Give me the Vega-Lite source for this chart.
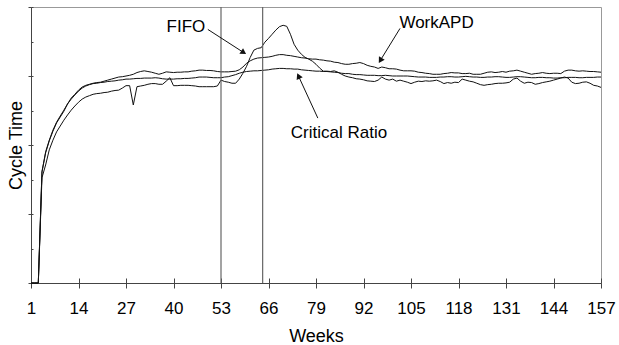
{
  "$schema": "https://vega.github.io/schema/vega-lite/v6.json",
  "width": 570,
  "height": 276,
  "autosize": {"type": "none"},
  "padding": {"left": 31, "top": 7, "right": 18, "bottom": 62},
  "background": "white",
  "config": {
    "font": "Liberation Sans",
    "view": {"stroke": "#999", "strokeWidth": 1},
    "axis": {"domainColor": "#444", "tickColor": "#444", "labelColor": "#000", "titleColor": "#000", "grid": false, "labelFont": "Liberation Sans", "titleFont": "Liberation Sans"}
  },
  "datasets": {
    "series": [
      {"w":1,"FIFO":0,"WorkAPD":0,"CR":0},
      {"w":2,"FIFO":0,"WorkAPD":0,"CR":0},
      {"w":3,"FIFO":0,"WorkAPD":0,"CR":0},
      {"w":4,"FIFO":30.5,"WorkAPD":32.2,"CR":32.2},
      {"w":5,"FIFO":34.2,"WorkAPD":38.0,"CR":37.7},
      {"w":6,"FIFO":38.6,"WorkAPD":41.4,"CR":41.2},
      {"w":7,"FIFO":41.4,"WorkAPD":44.3,"CR":44.0},
      {"w":8,"FIFO":43.8,"WorkAPD":46.6,"CR":46.4},
      {"w":9,"FIFO":45.5,"WorkAPD":48.4,"CR":48.1},
      {"w":10,"FIFO":47.2,"WorkAPD":50.1,"CR":49.8},
      {"w":11,"FIFO":48.7,"WorkAPD":51.9,"CR":51.9},
      {"w":12,"FIFO":50.1,"WorkAPD":53.6,"CR":53.3},
      {"w":13,"FIFO":51.3,"WorkAPD":54.7,"CR":54.5},
      {"w":14,"FIFO":52.4,"WorkAPD":55.9,"CR":55.6},
      {"w":15,"FIFO":53.3,"WorkAPD":56.8,"CR":56.5},
      {"w":16,"FIFO":53.9,"WorkAPD":57.3,"CR":57.1},
      {"w":17,"FIFO":54.3,"WorkAPD":57.6,"CR":57.5},
      {"w":18,"FIFO":54.7,"WorkAPD":57.9,"CR":57.8},
      {"w":19,"FIFO":54.9,"WorkAPD":58.1,"CR":57.9},
      {"w":20,"FIFO":55.0,"WorkAPD":58.2,"CR":58.1},
      {"w":21,"FIFO":55.2,"WorkAPD":58.5,"CR":58.2},
      {"w":22,"FIFO":55.3,"WorkAPD":58.8,"CR":58.4},
      {"w":23,"FIFO":55.6,"WorkAPD":59.1,"CR":58.5},
      {"w":24,"FIFO":55.8,"WorkAPD":59.4,"CR":58.6},
      {"w":25,"FIFO":55.9,"WorkAPD":59.7,"CR":58.8},
      {"w":26,"FIFO":56.5,"WorkAPD":59.8,"CR":58.9},
      {"w":27,"FIFO":57.2,"WorkAPD":60.0,"CR":59.1},
      {"w":28,"FIFO":57.2,"WorkAPD":60.2,"CR":59.1},
      {"w":29,"FIFO":51.6,"WorkAPD":60.5,"CR":59.2},
      {"w":30,"FIFO":56.9,"WorkAPD":61.0,"CR":59.3},
      {"w":31,"FIFO":57.1,"WorkAPD":61.3,"CR":59.3},
      {"w":32,"FIFO":57.3,"WorkAPD":61.5,"CR":59.4},
      {"w":33,"FIFO":57.6,"WorkAPD":61.3,"CR":59.4},
      {"w":34,"FIFO":57.8,"WorkAPD":61.1,"CR":59.4},
      {"w":35,"FIFO":57.8,"WorkAPD":60.8,"CR":59.5},
      {"w":36,"FIFO":57.6,"WorkAPD":60.5,"CR":59.4},
      {"w":37,"FIFO":57.6,"WorkAPD":60.8,"CR":59.2},
      {"w":38,"FIFO":58.5,"WorkAPD":61.2,"CR":59.1},
      {"w":39,"FIFO":59.5,"WorkAPD":61.1,"CR":59.1},
      {"w":40,"FIFO":57.2,"WorkAPD":61.0,"CR":59.1},
      {"w":41,"FIFO":57.2,"WorkAPD":61.1,"CR":59.2},
      {"w":42,"FIFO":57.3,"WorkAPD":61.1,"CR":59.2},
      {"w":43,"FIFO":57.3,"WorkAPD":61.2,"CR":59.3},
      {"w":44,"FIFO":57.3,"WorkAPD":61.2,"CR":59.3},
      {"w":45,"FIFO":57.2,"WorkAPD":61.4,"CR":59.4},
      {"w":46,"FIFO":57.1,"WorkAPD":61.5,"CR":59.5},
      {"w":47,"FIFO":56.9,"WorkAPD":61.7,"CR":59.7},
      {"w":48,"FIFO":56.9,"WorkAPD":61.7,"CR":59.7},
      {"w":49,"FIFO":56.9,"WorkAPD":61.6,"CR":59.7},
      {"w":50,"FIFO":56.9,"WorkAPD":61.6,"CR":59.6},
      {"w":51,"FIFO":56.9,"WorkAPD":61.5,"CR":59.5},
      {"w":52,"FIFO":57.1,"WorkAPD":61.3,"CR":59.5},
      {"w":53,"FIFO":58.8,"WorkAPD":61.2,"CR":59.5},
      {"w":54,"FIFO":58.4,"WorkAPD":61.2,"CR":59.7},
      {"w":55,"FIFO":58.2,"WorkAPD":61.2,"CR":59.8},
      {"w":56,"FIFO":57.9,"WorkAPD":61.3,"CR":60.1},
      {"w":57,"FIFO":57.9,"WorkAPD":61.4,"CR":60.4},
      {"w":58,"FIFO":59.1,"WorkAPD":61.8,"CR":60.8},
      {"w":59,"FIFO":60.8,"WorkAPD":62.6,"CR":61.1},
      {"w":60,"FIFO":62.8,"WorkAPD":63.7,"CR":61.3},
      {"w":61,"FIFO":65.4,"WorkAPD":64.4,"CR":61.4},
      {"w":62,"FIFO":67.5,"WorkAPD":64.9,"CR":61.5},
      {"w":63,"FIFO":68.0,"WorkAPD":65.2,"CR":61.5},
      {"w":64,"FIFO":68.2,"WorkAPD":65.3,"CR":61.6},
      {"w":65,"FIFO":69.8,"WorkAPD":65.4,"CR":61.7},
      {"w":66,"FIFO":70.9,"WorkAPD":65.5,"CR":61.8},
      {"w":67,"FIFO":72.1,"WorkAPD":65.7,"CR":62.0},
      {"w":68,"FIFO":73.3,"WorkAPD":66.0,"CR":62.1},
      {"w":69,"FIFO":74.3,"WorkAPD":66.2,"CR":62.2},
      {"w":70,"FIFO":74.7,"WorkAPD":66.2,"CR":62.2},
      {"w":71,"FIFO":74.4,"WorkAPD":66.0,"CR":62.1},
      {"w":72,"FIFO":72.1,"WorkAPD":65.9,"CR":62.1},
      {"w":73,"FIFO":69.2,"WorkAPD":65.7,"CR":62.0},
      {"w":74,"FIFO":67.5,"WorkAPD":65.5,"CR":62.0},
      {"w":75,"FIFO":66.3,"WorkAPD":65.3,"CR":61.8},
      {"w":76,"FIFO":65.4,"WorkAPD":65.2,"CR":61.7},
      {"w":77,"FIFO":64.9,"WorkAPD":65.0,"CR":61.6},
      {"w":78,"FIFO":64.3,"WorkAPD":64.9,"CR":61.5},
      {"w":79,"FIFO":63.4,"WorkAPD":64.9,"CR":61.4},
      {"w":80,"FIFO":62.3,"WorkAPD":64.7,"CR":61.4},
      {"w":81,"FIFO":61.4,"WorkAPD":64.6,"CR":61.3},
      {"w":82,"FIFO":61.4,"WorkAPD":64.4,"CR":61.3},
      {"w":83,"FIFO":61.3,"WorkAPD":64.3,"CR":61.2},
      {"w":84,"FIFO":61.5,"WorkAPD":64.0,"CR":61.1},
      {"w":85,"FIFO":61.1,"WorkAPD":63.9,"CR":61.0},
      {"w":86,"FIFO":60.5,"WorkAPD":63.6,"CR":60.8},
      {"w":87,"FIFO":60.0,"WorkAPD":63.4,"CR":60.7},
      {"w":88,"FIFO":59.7,"WorkAPD":63.4,"CR":60.7},
      {"w":89,"FIFO":59.5,"WorkAPD":63.6,"CR":60.5},
      {"w":90,"FIFO":59.2,"WorkAPD":63.7,"CR":60.4},
      {"w":91,"FIFO":59.1,"WorkAPD":63.9,"CR":60.4},
      {"w":92,"FIFO":58.9,"WorkAPD":63.6,"CR":60.3},
      {"w":93,"FIFO":58.6,"WorkAPD":63.1,"CR":60.2},
      {"w":94,"FIFO":58.5,"WorkAPD":62.8,"CR":60.2},
      {"w":95,"FIFO":58.4,"WorkAPD":62.6,"CR":60.2},
      {"w":96,"FIFO":58.8,"WorkAPD":62.2,"CR":60.1},
      {"w":97,"FIFO":59.7,"WorkAPD":62.6,"CR":60.1},
      {"w":98,"FIFO":59.1,"WorkAPD":62.4,"CR":60.2},
      {"w":99,"FIFO":58.8,"WorkAPD":62.1,"CR":60.1},
      {"w":100,"FIFO":59.1,"WorkAPD":62.1,"CR":60.0},
      {"w":101,"FIFO":58.5,"WorkAPD":62.0,"CR":60.0},
      {"w":102,"FIFO":58.8,"WorkAPD":61.7,"CR":60.0},
      {"w":103,"FIFO":58.5,"WorkAPD":61.5,"CR":60.0},
      {"w":104,"FIFO":58.2,"WorkAPD":61.5,"CR":60.0},
      {"w":105,"FIFO":57.8,"WorkAPD":61.5,"CR":59.9},
      {"w":106,"FIFO":58.2,"WorkAPD":61.4,"CR":59.8},
      {"w":107,"FIFO":58.5,"WorkAPD":61.1,"CR":59.7},
      {"w":108,"FIFO":58.4,"WorkAPD":61.0,"CR":59.7},
      {"w":109,"FIFO":58.6,"WorkAPD":60.8,"CR":59.7},
      {"w":110,"FIFO":58.5,"WorkAPD":60.7,"CR":59.6},
      {"w":111,"FIFO":58.6,"WorkAPD":60.5,"CR":59.6},
      {"w":112,"FIFO":58.8,"WorkAPD":60.5,"CR":59.6},
      {"w":113,"FIFO":58.4,"WorkAPD":60.5,"CR":59.7},
      {"w":114,"FIFO":57.8,"WorkAPD":60.7,"CR":59.7},
      {"w":115,"FIFO":58.1,"WorkAPD":60.8,"CR":59.8},
      {"w":116,"FIFO":57.9,"WorkAPD":61.0,"CR":59.8},
      {"w":117,"FIFO":58.2,"WorkAPD":60.9,"CR":59.7},
      {"w":118,"FIFO":58.1,"WorkAPD":60.9,"CR":59.7},
      {"w":119,"FIFO":59.1,"WorkAPD":60.7,"CR":59.8},
      {"w":120,"FIFO":58.8,"WorkAPD":60.7,"CR":59.9},
      {"w":121,"FIFO":58.5,"WorkAPD":60.8,"CR":59.8},
      {"w":122,"FIFO":58.3,"WorkAPD":60.5,"CR":59.7},
      {"w":123,"FIFO":57.9,"WorkAPD":60.5,"CR":59.7},
      {"w":124,"FIFO":57.5,"WorkAPD":60.5,"CR":59.6},
      {"w":125,"FIFO":57.3,"WorkAPD":60.8,"CR":59.6},
      {"w":126,"FIFO":57.5,"WorkAPD":61.1,"CR":59.7},
      {"w":127,"FIFO":57.6,"WorkAPD":61.2,"CR":59.7},
      {"w":128,"FIFO":57.8,"WorkAPD":61.0,"CR":59.8},
      {"w":129,"FIFO":57.9,"WorkAPD":61.1,"CR":59.8},
      {"w":130,"FIFO":57.9,"WorkAPD":61.3,"CR":59.7},
      {"w":131,"FIFO":58.0,"WorkAPD":61.1,"CR":59.6},
      {"w":132,"FIFO":58.2,"WorkAPD":61.4,"CR":59.6},
      {"w":133,"FIFO":59.1,"WorkAPD":61.5,"CR":59.7},
      {"w":134,"FIFO":59.4,"WorkAPD":61.7,"CR":59.8},
      {"w":135,"FIFO":58.5,"WorkAPD":61.4,"CR":59.8},
      {"w":136,"FIFO":57.9,"WorkAPD":61.1,"CR":59.7},
      {"w":137,"FIFO":58.2,"WorkAPD":60.8,"CR":59.6},
      {"w":138,"FIFO":58.1,"WorkAPD":60.5,"CR":59.5},
      {"w":139,"FIFO":57.6,"WorkAPD":60.7,"CR":59.5},
      {"w":140,"FIFO":57.8,"WorkAPD":60.8,"CR":59.6},
      {"w":141,"FIFO":58.1,"WorkAPD":61.0,"CR":59.6},
      {"w":142,"FIFO":58.3,"WorkAPD":60.8,"CR":59.5},
      {"w":143,"FIFO":58.5,"WorkAPD":60.7,"CR":59.5},
      {"w":144,"FIFO":58.8,"WorkAPD":60.8,"CR":59.4},
      {"w":145,"FIFO":59.1,"WorkAPD":60.8,"CR":59.4},
      {"w":146,"FIFO":59.4,"WorkAPD":60.7,"CR":59.5},
      {"w":147,"FIFO":59.7,"WorkAPD":61.4,"CR":59.5},
      {"w":148,"FIFO":59.4,"WorkAPD":61.7,"CR":59.6},
      {"w":149,"FIFO":58.2,"WorkAPD":61.7,"CR":59.6},
      {"w":150,"FIFO":57.8,"WorkAPD":61.5,"CR":59.6},
      {"w":151,"FIFO":57.9,"WorkAPD":61.4,"CR":59.5},
      {"w":152,"FIFO":58.2,"WorkAPD":61.5,"CR":59.5},
      {"w":153,"FIFO":58.3,"WorkAPD":61.4,"CR":59.6},
      {"w":154,"FIFO":57.9,"WorkAPD":61.3,"CR":59.6},
      {"w":155,"FIFO":57.3,"WorkAPD":61.3,"CR":59.6},
      {"w":156,"FIFO":57.1,"WorkAPD":61.2,"CR":59.7},
      {"w":157,"FIFO":56.7,"WorkAPD":61.1,"CR":59.7}
    ],
    "marks": [{"w": 53}, {"w": 64.4}],
    "labels": [
      {"w": 43.4, "v": 74.1, "label": "FIFO"},
      {"w": 112.0, "v": 75.4, "label": "WorkAPD"},
      {"w": 85.3, "v": 43.5, "label": "Critical Ratio"}
    ],
    "arrows": [
      {"w": 49.4, "v": 73.5, "w2": 59.2, "v2": 66.8},
      {"w": 79.5, "v": 47.8, "w2": 74.2, "v2": 60.0},
      {"w": 102.0, "v": 73.8, "w2": 96.6, "v2": 64.5}
    ]
  },
  "resolve": {"scale": {"x": "independent", "y": "independent"}, "axis": {"x": "independent", "y": "independent"}},
  "layer": [
    {
      "layer": [
        {
          "data": {"name": "series"},
          "transform": [{"fold": ["FIFO", "WorkAPD", "CR"], "as": ["series", "v"]}],
          "mark": {"type": "line", "color": "#111", "strokeWidth": 1},
          "encoding": {
            "x": {
              "field": "w", "type": "quantitative",
              "scale": {"domain": [1, 157], "nice": false, "zero": false},
              "axis": {"orient": "bottom", "values": [1, 14, 27, 40, 53, 66, 79, 92, 105, 118, 131, 144, 157], "title": "Weeks", "titleFontSize": 18, "titleFontWeight": "normal", "titlePadding": 11, "labelFontSize": 17, "labelPadding": 12, "tickSize": 5, "labelFlush": false, "labelOverlap": false}
            },
            "y": {
              "field": "v", "type": "quantitative",
              "scale": {"domain": [0, 80], "nice": false},
              "axis": {"orient": "left", "values": [0, 10, 20, 30, 40, 50, 60, 70, 80], "labels": false, "title": "Cycle Time", "titleFontSize": 18, "titleFontWeight": "normal", "titlePadding": 2, "tickSize": 3}
            },
            "detail": {"field": "series"}
          }
        },
        {
          "data": {"name": "marks"},
          "mark": {"type": "rule", "color": "#666", "strokeWidth": 1.2},
          "encoding": {"x": {"field": "w", "type": "quantitative"}}
        },
        {
          "data": {"name": "arrows"},
          "mark": {"type": "rule", "color": "#111", "strokeWidth": 1},
          "encoding": {
            "x": {"field": "w", "type": "quantitative"},
            "y": {"field": "v", "type": "quantitative"},
            "x2": {"field": "w2"},
            "y2": {"field": "v2"}
          }
        },
        {
          "data": {"values": [{"w": 59.2, "v": 66.8}]},
          "mark": {"type": "point", "shape": "triangle-up", "filled": true, "color": "#111", "size": 45, "angle": 123, "opacity": 1},
          "encoding": {"x": {"field": "w", "type": "quantitative"}, "y": {"field": "v", "type": "quantitative"}}
        },
        {
          "data": {"values": [{"w": 74.2, "v": 60.0}]},
          "mark": {"type": "point", "shape": "triangle-up", "filled": true, "color": "#111", "size": 45, "angle": 335, "opacity": 1},
          "encoding": {"x": {"field": "w", "type": "quantitative"}, "y": {"field": "v", "type": "quantitative"}}
        },
        {
          "data": {"values": [{"w": 96.6, "v": 64.5}]},
          "mark": {"type": "point", "shape": "triangle-up", "filled": true, "color": "#111", "size": 45, "angle": 211, "opacity": 1},
          "encoding": {"x": {"field": "w", "type": "quantitative"}, "y": {"field": "v", "type": "quantitative"}}
        },
        {
          "data": {"name": "labels"},
          "mark": {"type": "text", "fontSize": 17, "align": "center", "baseline": "middle", "color": "#000", "font": "Liberation Sans"},
          "encoding": {
            "x": {"field": "w", "type": "quantitative"},
            "y": {"field": "v", "type": "quantitative"},
            "text": {"field": "label"}
          }
        }
      ]
    },
    {
      "data": {"name": "labels"},
      "mark": {"type": "point", "opacity": 0},
      "encoding": {
        "x": {
          "field": "w", "type": "quantitative",
          "scale": {"domain": [1, 157], "nice": false, "zero": false},
          "axis": {"orient": "bottom", "offset": -5, "values": [1, 14, 27, 40, 53, 66, 79, 92, 105, 118, 131, 144, 157], "labels": false, "domain": false, "title": null, "tickSize": 5}
        },
        "y": {
          "field": "v", "type": "quantitative",
          "scale": {"domain": [0, 80], "nice": false},
          "axis": {"orient": "left", "offset": -2, "values": [0, 10, 20, 30, 40, 50, 60, 70, 80], "labels": false, "domain": false, "title": null, "tickSize": 2}
        }
      }
    }
  ]
}
